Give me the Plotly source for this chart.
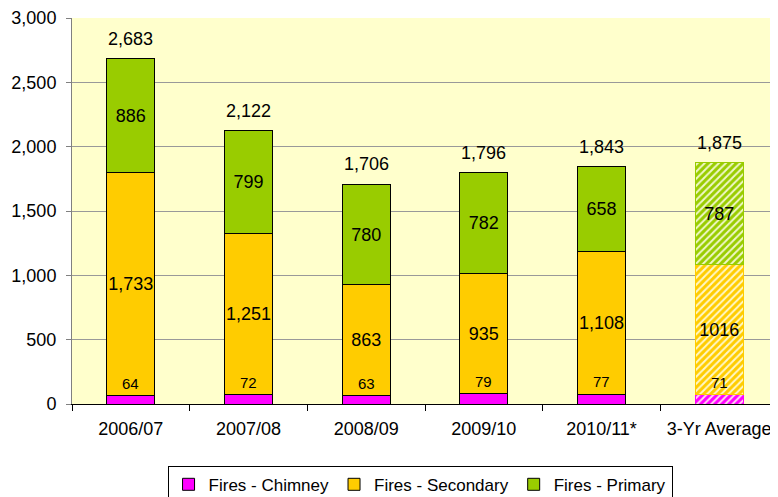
import plotly.graph_objects as go

years = ["2006/07", "2007/08", "2008/09", "2009/10", "2010/11*", "3-Yr Average"]
chimney = [64, 72, 63, 79, 77, 71]
secondary = [1733, 1251, 863, 935, 1108, 1016]
primary = [886, 799, 780, 782, 658, 787]
totals = [2683, 2122, 1706, 1796, 1843, 1875]

colors = {"Fires - Chimney": "#FF00FF", "Fires - Secondary": "#FFCC00", "Fires - Primary": "#99CC00"}


def labels(vals):
    # averages are shown without thousands separator
    return [f"{v:,}" for v in vals[:-1]] + [str(vals[-1])]


hatch = [""] * (len(years) - 1) + ["/"]

fig = go.Figure()
for name, vals, show_text in [("Fires - Chimney", chimney, False),
                              ("Fires - Secondary", secondary, True),
                              ("Fires - Primary", primary, True)]:
    c = colors[name]
    fig.add_trace(go.Bar(
        x=years, y=vals, name=name,
        width=0.41,
        marker=dict(
            color=c,
            line=dict(color=["#000000"] * (len(years) - 1) + [c], width=1),
            pattern=dict(shape=hatch, fgcolor="rgba(255,255,235,0.85)", bgcolor=c,
                         size=5, solidity=0.4, fillmode="replace"),
        ),
        text=labels(vals) if show_text else None,
        textposition="inside" if show_text else "none",
        insidetextanchor="middle",
        textangle=0,
        constraintext="none",
        textfont=dict(size=18, color="#000000"),
        hoverinfo="skip",
    ))

# chimney labels sit just above the small pink segment
for x, v in zip(years, chimney):
    fig.add_annotation(x=x, y=v, text=str(v), showarrow=False, yanchor="bottom",
                       yshift=2, font=dict(size=15, color="#000000"))
# totals above each bar
for x, t in zip(years, totals):
    fig.add_annotation(x=x, y=t, text=f"{t:,}", showarrow=False, yanchor="bottom",
                       yshift=8, font=dict(size=18, color="#000000"))

# page body adds an 8px offset, so the figure is 8px smaller
fig.update_layout(
    barmode="stack",
    width=770, height=489,
    margin=dict(l=64, r=0, t=10, b=93, autoexpand=False),
    paper_bgcolor="#FFFFFF",
    plot_bgcolor="#FFFFCC",
    font=dict(family="Liberation Sans, Arial", size=18, color="#000000"),
    showlegend=True,
    legend=dict(orientation="h", x=0.493, xanchor="center", y=-0.16, yanchor="top",
                bordercolor="#000000", borderwidth=1, font=dict(size=17),
                traceorder="normal", itemwidth=30, tracegroupgap=0),
    xaxis=dict(showline=True, linecolor="#000000", ticks="outside", tickson="boundaries",
               ticklen=6, tickcolor="#000000", range=[-0.5, 5.5], automargin=False,
               ticklabelstandoff=8),
    yaxis=dict(range=[0, 3000], dtick=500, tickformat=",", showgrid=True,
               gridcolor="#999999", gridwidth=1, showline=True, linecolor="#808080",
               ticks="outside", ticklen=5, tickcolor="#808080", zeroline=False,
               automargin=False, ticklabelstandoff=6),
)

fig.write_html("out.html")
